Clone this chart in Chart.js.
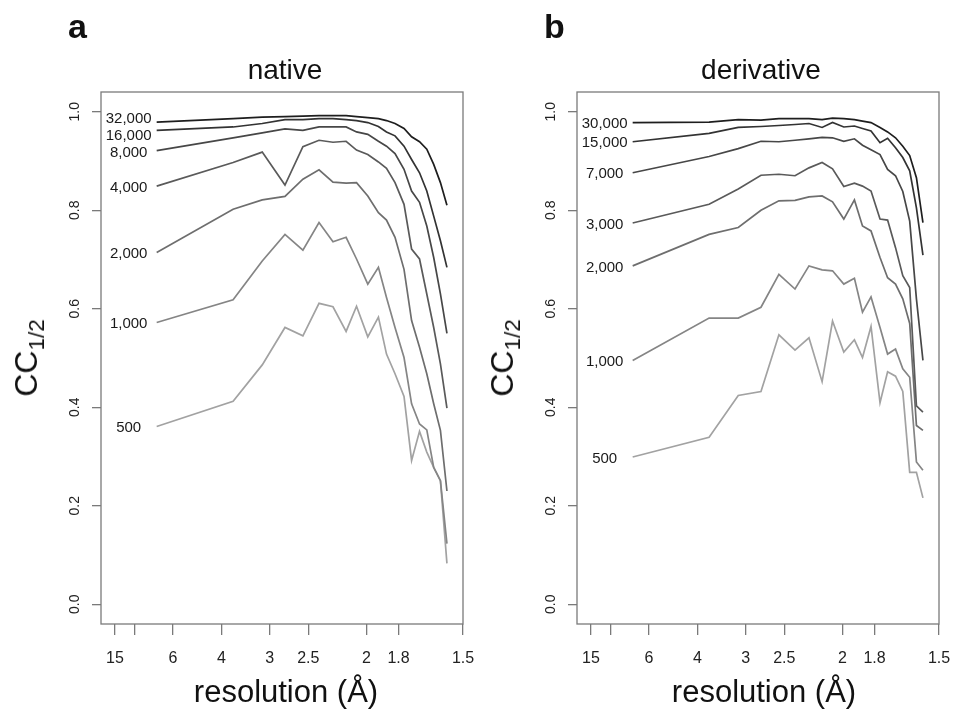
<!DOCTYPE html>
<html>
<head>
<meta charset="utf-8">
<script src="https://cdn.jsdelivr.net/npm/chart.js@4.4.1/dist/chart.umd.min.js"></script>
<style>
  body { margin: 0; background: #fff; font-family: "Liberation Sans", Arial, sans-serif; color: #111; }
  .panel { position: absolute; top: 0; width: 477px; height: 711px; }
  .txt { position: absolute; white-space: nowrap; line-height: 1; }
  .letter { font-size: 34px; font-weight: bold; top: 9px; }
  .title { font-size: 28px; top: 56px; transform: translateX(-50%); }
  .xlab { font-size: 31px; top: 676px; transform: translateX(-50%); }
  .ylab { font-size: 32px; left: 26px; top: 358px; transform: translate(-50%, -50%) rotate(-90deg); }
  .ylab sub { font-size: 70%; line-height: 0; }
</style>
</head>
<body>
<div class="panel" style="left:0"><canvas id="native" width="477" height="711"></canvas></div>
<div class="panel" style="left:476px"><canvas id="derivative" width="477" height="711"></canvas></div>

<div class="txt letter" style="left:68px">a</div>
<div class="txt letter" style="left:544px">b</div>
<div class="txt title" style="left:285px">native</div>
<div class="txt title" style="left:761px">derivative</div>
<div class="txt xlab" style="left:286px">resolution (Å)</div>
<div class="txt xlab" style="left:764px">resolution (Å)</div>
<div class="txt ylab">CC<sub>1/2</sub></div>
<div class="txt ylab" style="left:502px">CC<sub>1/2</sub></div>

<script>
// resolution of each shell (Å), same shells in both panels
const shellRes = [7.22, 3.70, 3.12, 2.78, 2.56, 2.39, 2.26, 2.15, 2.07, 1.99,
                  1.92, 1.87, 1.82, 1.77, 1.73, 1.69, 1.655, 1.623, 1.593, 1.565];

// x axis ticks (Å) and their labels (10 gets a tick but no label)
const tickRes = [15, 10, 6, 4, 3, 2.5, 2, 1.8, 1.5];
const tickResLabels = ["15", "", "6", "4", "3", "2.5", "2", "1.8", "1.5"];
const ccTicks = [0, 0.2, 0.4, 0.6, 0.8, 1.0];

// native: number of images in each curve
const nativeLabels = ["32,000", "16,000", "8,000", "4,000", "2,000", "1,000", "500"];
const native32000 = [0.979, 0.986, 0.989, 0.990, 0.991, 0.992, 0.992, 0.992, 0.990, 0.988, 0.986, 0.982, 0.976, 0.966, 0.949, 0.939, 0.924, 0.893, 0.856, 0.810];
const native16000 = [0.962, 0.969, 0.976, 0.984, 0.984, 0.986, 0.986, 0.984, 0.982, 0.978, 0.970, 0.959, 0.951, 0.930, 0.903, 0.876, 0.839, 0.788, 0.738, 0.684];
const native8000  = [0.921, 0.947, 0.957, 0.965, 0.962, 0.969, 0.969, 0.969, 0.959, 0.954, 0.940, 0.930, 0.915, 0.883, 0.839, 0.816, 0.768, 0.704, 0.630, 0.550];
const native4000  = [0.849, 0.897, 0.918, 0.851, 0.929, 0.942, 0.938, 0.940, 0.922, 0.913, 0.898, 0.885, 0.856, 0.812, 0.721, 0.701, 0.630, 0.562, 0.488, 0.398];
const native2000  = [0.714, 0.802, 0.821, 0.828, 0.863, 0.882, 0.857, 0.855, 0.856, 0.829, 0.795, 0.780, 0.745, 0.680, 0.576, 0.522, 0.468, 0.407, 0.353, 0.230];
const native1000  = [0.572, 0.618, 0.697, 0.751, 0.719, 0.775, 0.736, 0.745, 0.701, 0.650, 0.684, 0.623, 0.562, 0.501, 0.407, 0.366, 0.354, 0.278, 0.251, 0.123];
const native500   = [0.361, 0.412, 0.486, 0.562, 0.545, 0.611, 0.604, 0.554, 0.605, 0.543, 0.583, 0.508, 0.468, 0.422, 0.292, 0.351, 0.309, 0.278, 0.251, 0.083];

// derivative
const derivLabels = ["30,000", "15,000", "7,000", "3,000", "2,000", "1,000", "500"];
const deriv30000 = [0.978, 0.979, 0.984, 0.983, 0.986, 0.986, 0.986, 0.984, 0.987, 0.986, 0.984, 0.981, 0.978, 0.968, 0.959, 0.947, 0.930, 0.911, 0.866, 0.775];
const deriv15000 = [0.939, 0.956, 0.968, 0.970, 0.972, 0.974, 0.976, 0.968, 0.978, 0.969, 0.971, 0.966, 0.961, 0.937, 0.946, 0.927, 0.907, 0.880, 0.805, 0.709];
const deriv7000  = [0.876, 0.909, 0.925, 0.940, 0.939, 0.942, 0.945, 0.948, 0.947, 0.940, 0.945, 0.932, 0.923, 0.913, 0.883, 0.870, 0.838, 0.778, 0.620, 0.495];
const deriv3000  = [0.774, 0.812, 0.843, 0.871, 0.873, 0.870, 0.886, 0.897, 0.884, 0.848, 0.855, 0.849, 0.839, 0.782, 0.780, 0.724, 0.667, 0.643, 0.403, 0.390];
const deriv2000  = [0.687, 0.751, 0.765, 0.800, 0.819, 0.820, 0.827, 0.829, 0.817, 0.782, 0.821, 0.768, 0.758, 0.704, 0.663, 0.650, 0.620, 0.570, 0.363, 0.353];
const deriv1000  = [0.495, 0.581, 0.581, 0.603, 0.670, 0.640, 0.687, 0.679, 0.677, 0.650, 0.662, 0.593, 0.624, 0.562, 0.508, 0.518, 0.478, 0.461, 0.289, 0.272];
const deriv500   = [0.299, 0.339, 0.424, 0.432, 0.547, 0.516, 0.541, 0.452, 0.575, 0.512, 0.537, 0.501, 0.564, 0.409, 0.472, 0.463, 0.432, 0.268, 0.268, 0.216];

// darkest for the biggest data set
const lineColors = ["#1e1e1e", "#333333", "#474747", "#5a5a5a", "#6e6e6e", "#858585", "#a2a2a2"];
const boxColor = "#7a7a7a";

// box round the plot and the curve names left of each curve
const boxAndLabels = {
  id: "boxAndLabels",
  afterDatasetsDraw(chart) {
    const { ctx, chartArea: a, scales: { x, y } } = chart;
    ctx.save();
    ctx.strokeStyle = boxColor;
    ctx.lineWidth = 1.3;
    ctx.strokeRect(a.left, a.top, a.right - a.left, a.bottom - a.top);

    const ds = chart.data.datasets;
    const ys = ds.map(d => y.getPixelForValue(d.data[0].y));
    // push apart labels that would overlap
    const order = ys.map((v, i) => i).sort((p, q) => ys[p] - ys[q]);
    for (let it = 0; it < 30; it++) {
      for (let k = 1; k < order.length; k++) {
        const up = order[k - 1], dn = order[k];
        const gap = ys[dn] - ys[up];
        if (gap < 17) {
          ys[up] -= (17 - gap) / 2;
          ys[dn] += (17 - gap) / 2;
        }
      }
    }
    ctx.font = '15px "Liberation Sans", Arial, sans-serif';
    ctx.fillStyle = "#1a1a1a";
    ctx.textAlign = "center";
    ctx.textBaseline = "middle";
    ds.forEach((d, i) => {
      const px = x.getPixelForValue(d.data[0].x) - 28;
      ctx.fillText(d.label, px, ys[i] + 1.5);
    });
    ctx.restore();
  }
};

function makePanel(id, series, names) {
  const datasets = series.map((vals, i) => ({
    label: names[i],
    data: vals.map((v, j) => ({ x: 1 / shellRes[j], y: v })),
    borderColor: lineColors[i],
    borderWidth: 1.7,
    pointRadius: 0,
    fill: false,
    tension: 0
  }));

  return new Chart(document.getElementById(id), {
    type: "line",
    data: { datasets },
    options: {
      responsive: false,
      animation: false,
      layout: { padding: { left: 0, top: 92, right: 14, bottom: 0 } },
      plugins: { legend: { display: false }, tooltip: { enabled: false } },
      scales: {
        x: {
          type: "linear",
          min: 0.0425,
          max: 1 / 1.5,
          afterBuildTicks: s => { s.ticks = tickRes.map(d => ({ value: 1 / d })); },
          afterFit: s => { s.height = 87; s.paddingLeft = 0; s.paddingRight = 0; },
          ticks: {
            autoSkip: false, maxRotation: 0, minRotation: 0, padding: 14,
            color: "#222", font: { family: "Liberation Sans", size: 16 },
            callback: (v, i) => tickResLabels[i]
          },
          grid: { drawOnChartArea: false, drawTicks: true, tickLength: 11, color: boxColor, lineWidth: 1.3 },
          border: { display: false }
        },
        y: {
          type: "linear",
          min: -0.04,
          max: 1.04,
          afterBuildTicks: s => { s.ticks = ccTicks.map(v => ({ value: v })); },
          afterFit: s => { s.width = 101; s.paddingTop = 0; s.paddingBottom = 0; },
          ticks: {
            minRotation: 90, maxRotation: 90, crossAlign: "center", padding: 7,
            color: "#222", font: { family: "Liberation Sans", size: 14 },
            callback: v => v.toFixed(1)
          },
          grid: { drawOnChartArea: false, drawTicks: true, tickLength: 9, color: boxColor, lineWidth: 1.3 },
          border: { display: false }
        }
      }
    },
    plugins: [boxAndLabels]
  });
}

makePanel("native", [native32000, native16000, native8000, native4000, native2000, native1000, native500], nativeLabels);
makePanel("derivative", [deriv30000, deriv15000, deriv7000, deriv3000, deriv2000, deriv1000, deriv500], derivLabels);
</script>
</body>
</html>
